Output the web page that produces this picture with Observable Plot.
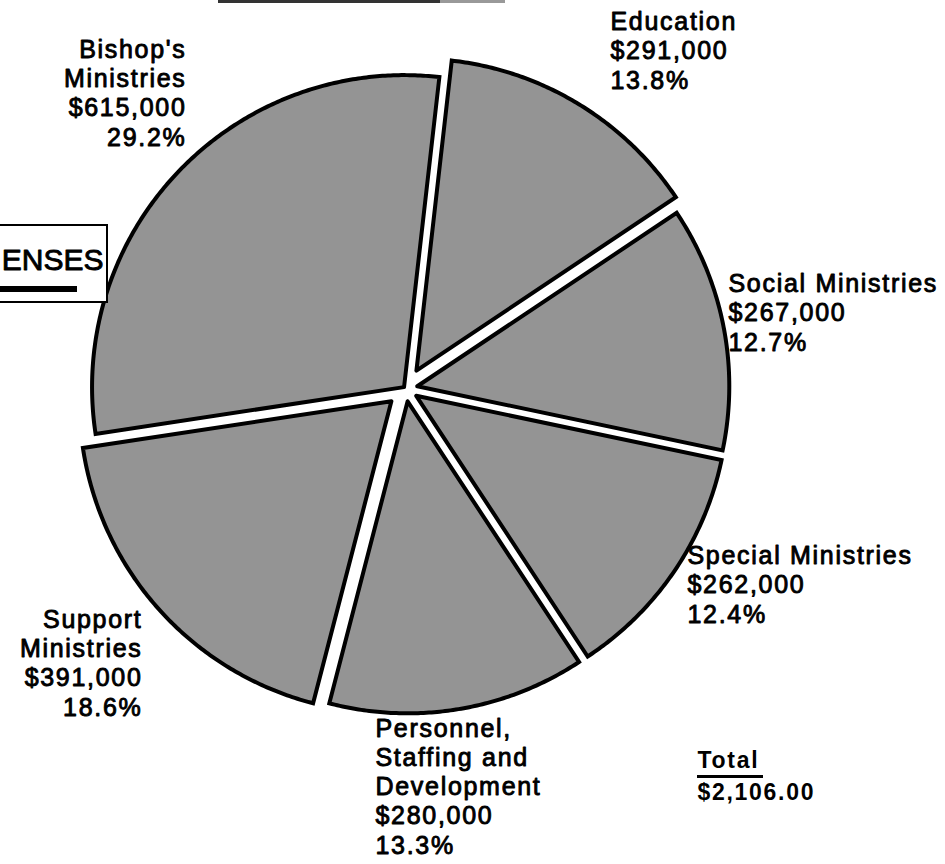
<!DOCTYPE html>
<html>
<head>
<meta charset="utf-8">
<script src="https://cdn.jsdelivr.net/npm/d3@7"></script>
<script src="https://cdn.jsdelivr.net/npm/@observablehq/plot@0.6"></script>
<style>
  html, body { margin: 0; padding: 0; background: #ffffff; }
  #chart { width: 945px; height: 864px; overflow: hidden; }
</style>
</head>
<body>
<div id="chart"></div>
<script>
// ---- data (clockwise from the top) ----
const categories = ["Education", "Social Ministries", "Special Ministries", "Personnel, Staffing and Development", "Support Ministries", "Bishop's Ministries"];
const labelLines = [["Education"], ["Social Ministries"], ["Special Ministries"], ["Personnel,", "Staffing and", "Development"], ["Support", "Ministries"], ["Bishop's", "Ministries"]];
const amounts = [291000, 267000, 262000, 280000, 391000, 615000];
const totalLabel = "$2,106.00";
const titleText = "ENSES";

// ---- layout (styles/positions, not data) ----
const W = 945, H = 864;
const cx = 405, cy = 388, R = 312;
const startDeg = 6.5;
const explode = [21, 12, 13, 13, 19, 2];
const labelLayout = [
  {x: 610, y: 88, anchor: "start"},
  {x: 728, y: 350, anchor: "start"},
  {x: 687, y: 622, anchor: "start"},
  {x: 375, y: 853, anchor: "start"},
  {x: 142, y: 715, anchor: "end"},
  {x: 186, y: 145, anchor: "end"}
];

const total = d3.sum(amounts);
const fmtMoney = d3.format("$,");
const pie = d3.pie().sort(null).startAngle(startDeg * Math.PI / 180).endAngle(startDeg * Math.PI / 180 + 2 * Math.PI);
const arcs = pie(amounts);

// build slice outlines (polygons) from the pie angles
const slicePts = [];
arcs.forEach((a, i) => {
  const m = (a.startAngle + a.endAngle) / 2;
  const ax = cx + explode[i] * Math.sin(m), ay = cy - explode[i] * Math.cos(m);
  slicePts.push({slice: categories[i], x: ax, y: ay});
  const n = Math.ceil((a.endAngle - a.startAngle) / (Math.PI / 360));
  for (let k = 0; k <= n; k++) {
    const t = a.startAngle + (a.endAngle - a.startAngle) * k / n;
    slicePts.push({slice: categories[i], x: ax + R * Math.sin(t), y: ay - R * Math.cos(t)});
  }
  slicePts.push({slice: categories[i], x: ax, y: ay});
});

const labels = categories.map((c, i) => ({
  text: [...labelLines[i], fmtMoney(amounts[i]), (amounts[i] / total * 100).toFixed(1) + "%"].join("\n"),
  x: labelLayout[i].x, y: labelLayout[i].y, anchor: labelLayout[i].anchor
}));

const font = "'Liberation Sans', Arial, Helvetica, sans-serif";

const svg = Plot.plot({
  width: W, height: H,
  margin: 0,
  style: {background: "#ffffff", letterSpacing: "1.7px", fontFamily: font},
  x: {domain: [0, W], range: [0, W], axis: null},
  y: {domain: [0, H], range: [0, H], axis: null},
  marks: [
    // slices
    Plot.line(slicePts, {x: "x", y: "y", z: "slice", fill: "url(#halftone)", stroke: "#000", strokeWidth: 4, strokeLinejoin: "miter", strokeMiterlimit: 4}),
    // category labels
    Plot.text(labels.filter(d => d.anchor === "start"), {x: "x", y: "y", text: "text", textAnchor: "start", lineAnchor: "bottom", lineHeight: 1.17, fontSize: 25, fill: "#000", stroke: "#000", strokeWidth: 0.9}),
    Plot.text(labels.filter(d => d.anchor === "end"), {x: "x", y: "y", text: "text", textAnchor: "end", lineAnchor: "bottom", lineHeight: 1.17, fontSize: 25, fill: "#000", stroke: "#000", strokeWidth: 0.9}),
    // total
    Plot.text([{t: "Total\n" + totalLabel}], {x: () => 697, y: () => 799, text: "t", textAnchor: "start", lineAnchor: "bottom", lineHeight: 1.38, fontSize: 23, fontWeight: "bold", fill: "#000"}),
    Plot.ruleY([776], {x1: 697, x2: 763, stroke: "#000", strokeWidth: 3}),
    // title box (cropped)
    Plot.rect([{}], {x1: () => -6, x2: () => 107, y1: () => 225, y2: () => 302, fill: "#fff", stroke: "#000", strokeWidth: 2}),
    Plot.text([titleText], {x: () => 103, y: () => 269, text: d => d, textAnchor: "end", lineAnchor: "bottom", fontSize: 30, fill: "#000", stroke: "#000", strokeWidth: 0.9}),
    Plot.rect([{}], {x1: () => 0, x2: () => 77, y1: () => 286, y2: () => 292, fill: "#000"}),
    // edge of another box at the top
    Plot.ruleY([1], {x1: 218, x2: 440, stroke: "#333", strokeWidth: 3}),
    Plot.ruleY([1], {x1: 440, x2: 505, stroke: "#999", strokeWidth: 3})
  ]
});

// the cropped title uses normal tracking
d3.select(svg).selectAll("text").filter(function() { return this.textContent === titleText; }).style("letter-spacing", "0px");

// halftone fill pattern
const defs = d3.select(svg).insert("defs", ":first-child");
const pat = defs.append("pattern").attr("id", "halftone").attr("patternUnits", "userSpaceOnUse").attr("width", 2).attr("height", 2);
pat.append("rect").attr("width", 2).attr("height", 2).attr("fill", "#ffffff");
pat.append("rect").attr("x", 0).attr("y", 0).attr("width", 1).attr("height", 1).attr("fill", "#2a2a2a");
pat.append("rect").attr("x", 1).attr("y", 1).attr("width", 1).attr("height", 1).attr("fill", "#2a2a2a");

document.getElementById("chart").appendChild(svg);
</script>
</body>
</html>
